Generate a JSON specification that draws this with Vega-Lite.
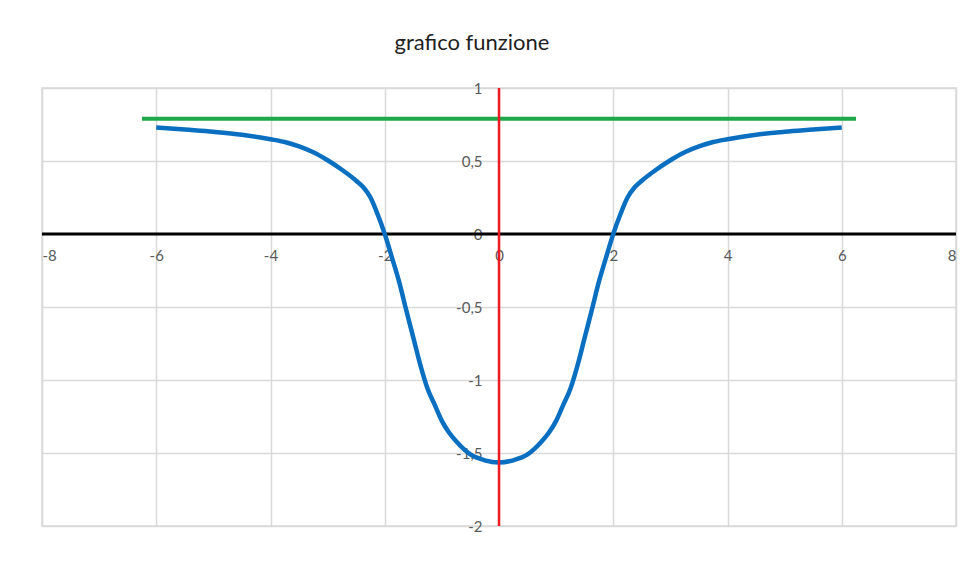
{
  "$schema": "https://vega.github.io/schema/vega-lite/v6.json",
  "width": 914,
  "height": 438,
  "autosize": {"type": "none"},
  "padding": {"left": 42, "top": 88, "right": 20, "bottom": 48},
  "background": "#ffffff",
  "title": {
    "text": "grafico funzione",
    "font": "Lato",
    "fontSize": 22,
    "fontWeight": "normal",
    "color": "#1f1f1f",
    "anchor": "middle",
    "frame": "group",
    "dx": -27,
    "offset": 26
  },
  "datasets": {
    "curva": [
      {"x": -6, "y": 0.73}, {"x": -5.5, "y": 0.715}, {"x": -5, "y": 0.7}, {"x": -4.5, "y": 0.68},
      {"x": -4, "y": 0.649}, {"x": -3.75, "y": 0.63}, {"x": -3.5, "y": 0.6}, {"x": -3.25, "y": 0.56},
      {"x": -3, "y": 0.505}, {"x": -2.75, "y": 0.44}, {"x": -2.5, "y": 0.365}, {"x": -2.375, "y": 0.32},
      {"x": -2.25, "y": 0.25}, {"x": -2.125, "y": 0.135}, {"x": -2, "y": 0}, {"x": -1.875, "y": -0.16},
      {"x": -1.75, "y": -0.325}, {"x": -1.625, "y": -0.52}, {"x": -1.5, "y": -0.71}, {"x": -1.375, "y": -0.9},
      {"x": -1.25, "y": -1.06}, {"x": -1.125, "y": -1.17}, {"x": -1, "y": -1.28}, {"x": -0.875, "y": -1.36},
      {"x": -0.75, "y": -1.42}, {"x": -0.625, "y": -1.47}, {"x": -0.5, "y": -1.51}, {"x": -0.25, "y": -1.55},
      {"x": 0, "y": -1.565},
      {"x": 0.25, "y": -1.55}, {"x": 0.5, "y": -1.51}, {"x": 0.625, "y": -1.47}, {"x": 0.75, "y": -1.42},
      {"x": 0.875, "y": -1.36}, {"x": 1, "y": -1.28}, {"x": 1.125, "y": -1.17}, {"x": 1.25, "y": -1.06},
      {"x": 1.375, "y": -0.9}, {"x": 1.5, "y": -0.71}, {"x": 1.625, "y": -0.52}, {"x": 1.75, "y": -0.325},
      {"x": 1.875, "y": -0.16}, {"x": 2, "y": 0}, {"x": 2.125, "y": 0.135}, {"x": 2.25, "y": 0.25},
      {"x": 2.375, "y": 0.32}, {"x": 2.5, "y": 0.365}, {"x": 2.75, "y": 0.44}, {"x": 3, "y": 0.505},
      {"x": 3.25, "y": 0.56}, {"x": 3.5, "y": 0.6}, {"x": 3.75, "y": 0.63}, {"x": 4, "y": 0.649},
      {"x": 4.5, "y": 0.68}, {"x": 5, "y": 0.7}, {"x": 5.5, "y": 0.715}, {"x": 6, "y": 0.73}
    ],
    "asintoto": [
      {"x": -6.25, "y": 0.79},
      {"x": 6.25, "y": 0.79}
    ],
    "assi": [
      {"x": 0, "y": 0}
    ]
  },
  "config": {
    "view": {"stroke": "#d9d9d9", "strokeWidth": 1.5},
    "axis": {
      "labelFont": "Lato",
      "labelFontSize": 15,
      "labelColor": "#595959",
      "domain": false,
      "ticks": false,
      "tickSize": 0,
      "title": null
    }
  },
  "resolve": {"axis": {"x": "independent", "y": "independent"}},
  "layer": [
    {
      "data": {"name": "curva"},
      "mark": {"type": "line", "opacity": 0},
      "encoding": {
        "x": {
          "field": "x", "type": "quantitative",
          "scale": {"domain": [-8, 8], "nice": false, "zero": false},
          "axis": {"orient": "bottom", "labels": false, "grid": true, "gridColor": "#d9d9d9", "gridWidth": 1.5,
                   "values": [-8, -6, -4, -2, 0, 2, 4, 6, 8]}
        },
        "y": {
          "field": "y", "type": "quantitative",
          "scale": {"domain": [-2, 1], "nice": false, "zero": false},
          "axis": {"orient": "left", "labels": false, "grid": true, "gridColor": "#d9d9d9", "gridWidth": 1.5,
                   "values": [-2, -1.5, -1, -0.5, 0, 0.5, 1]}
        }
      }
    },
    {
      "data": {"name": "assi"},
      "mark": {"type": "rule", "color": "#000000", "strokeWidth": 3},
      "encoding": {"y": {"field": "y", "type": "quantitative", "axis": null}}
    },
    {
      "data": {"name": "asintoto"},
      "mark": {"type": "line", "color": "#1fa84a", "strokeWidth": 4},
      "encoding": {
        "x": {"field": "x", "type": "quantitative", "axis": null},
        "y": {"field": "y", "type": "quantitative", "axis": null}
      }
    },
    {
      "data": {"name": "curva"},
      "mark": {"type": "line", "color": "#0a6fc0", "strokeWidth": 4.5, "interpolate": "monotone"},
      "encoding": {
        "x": {
          "field": "x", "type": "quantitative",
          "axis": {"orient": "bottom", "offset": -292, "grid": false, "labelPadding": 14,
                   "values": [-8, -6, -4, -2, 0, 2, 4, 6, 8],
                   "labelExpr": "'' + datum.value"}
        },
        "y": {
          "field": "y", "type": "quantitative",
          "axis": {"orient": "left", "offset": -457, "grid": false, "labelPadding": 17,
                   "values": [-2, -1.5, -1, -0.5, 0, 0.5, 1],
                   "labelExpr": "replace('' + datum.value, '.', ',')"}
        }
      }
    },
    {
      "data": {"name": "assi"},
      "mark": {"type": "rule", "color": "#ee1b24", "strokeWidth": 2.5},
      "encoding": {"x": {"field": "x", "type": "quantitative", "axis": null}}
    }
  ]
}
